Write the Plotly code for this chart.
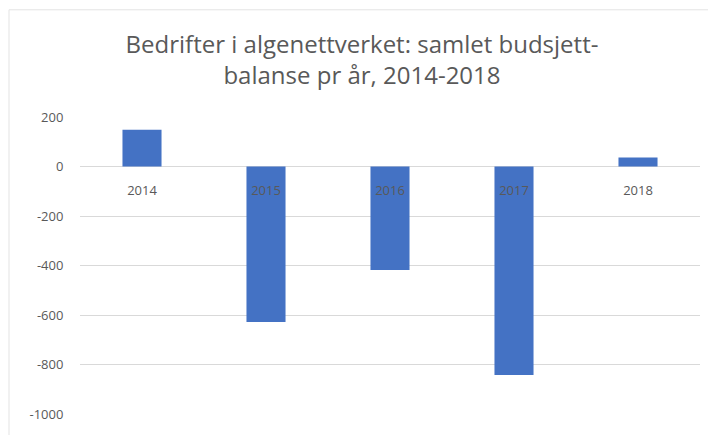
import plotly.graph_objects as go

years = ["2014", "2015", "2016", "2017", "2018"]
balance = [148, -628, -418, -842, 36]
y_ticks = [200, 0, -200, -400, -600, -800, -1000]
title_lines = ["Bedrifter i algenettverket: samlet budsjett-", "balanse pr år, 2014-2018"]

y_min, y_max = -1000, 200

fig = go.Figure()
fig.add_trace(go.Bar(x=years, y=balance, marker=dict(color="#4472C4", line=dict(width=0)),
                     width=0.315, showlegend=False))

fig.update_layout(
    width=708, height=427,
    margin=dict(l=72, r=16, t=109, b=19),
    paper_bgcolor="white", plot_bgcolor="white",
    font=dict(family="Open Sans, Liberation Sans, sans-serif", color="#595959"),
    title=dict(text="<br>".join(title_lines), x=0.5, xref="container", xanchor="center",
               y=1 - 45 / 427, yanchor="top",
               font=dict(size=24, color="#595959", family="Open Sans, sans-serif")),
    xaxis=dict(type="category", anchor="free", position=(0 - y_min) / (y_max - y_min),
               showgrid=False, showline=False, zeroline=False, layer="above traces",
               ticks="outside", ticklen=12, tickcolor="rgba(0,0,0,0)",
               tickfont=dict(size=13, color="#595959")),
    yaxis=dict(range=[y_min, y_max], tickvals=y_ticks, ticktext=[str(v) for v in y_ticks],
               showgrid=True, gridcolor="#d9d9d9", gridwidth=1, zeroline=True,
               zerolinecolor="#d9d9d9", zerolinewidth=1, showline=False,
               ticks="outside", ticklen=13, tickcolor="rgba(0,0,0,0)",
               tickfont=dict(size=13, color="#595959")),
    shapes=[dict(type="rect", xref="paper", yref="paper", x0=-0.1145, x1=1.2, y0=-0.3, y1=1.361,
                 line=dict(color="#e3e3e3", width=1), fillcolor="rgba(0,0,0,0)", layer="below")],
)

fig.write_html("out.html")
